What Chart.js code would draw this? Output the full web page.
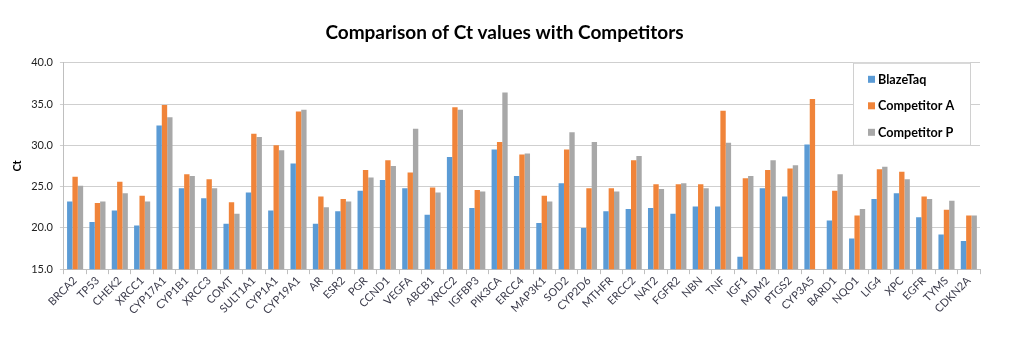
<!DOCTYPE html>
<html>
<head>
<meta charset="utf-8">
<script src="https://cdn.jsdelivr.net/npm/chart.js@4"></script>
<style>
  html, body { margin: 0; padding: 0; background: #fff; }
  #wrap { width: 1024px; height: 337px; }
</style>
</head>
<body>
<div id="wrap"><canvas id="ctChart" width="1024" height="337"></canvas></div>
<script>
// genes on the x axis
const genes = ['BRCA2', 'TP53', 'CHEK2', 'XRCC1', 'CYP17A1', 'CYP1B1', 'XRCC3', 'COMT', 'SULT1A1', 'CYP1A1',
    'CYP19A1', 'AR', 'ESR2', 'PGR', 'CCND1', 'VEGFA', 'ABCB1', 'XRCC2', 'IGFBP3', 'PIK3CA',
    'ERCC4', 'MAP3K1', 'SOD2', 'CYP2D6', 'MTHFR', 'ERCC2', 'NAT2', 'FGFR2', 'NBN', 'TNF',
    'IGF1', 'MDM2', 'PTGS2', 'CYP3A5', 'BARD1', 'NQO1', 'LIG4', 'XPC', 'EGFR', 'TYMS', 'CDKN2A'];

// Ct values
const blazeTaq = [23.2, 20.7, 22.1, 20.3, 32.4, 24.8, 23.6, 20.5, 24.3, 22.1,
    27.8, 20.5, 22.0, 24.5, 25.8, 24.8, 21.6, 28.6, 22.4, 29.5,
    26.3, 20.6, 25.4, 20.0, 22.0, 22.3, 22.4, 21.7, 22.6, 22.6,
    16.5, 24.8, 23.8, 30.1, 20.9, 18.7, 23.5, 24.2, 21.3, 19.2, 18.4];
const competitorA = [26.2, 23.0, 25.6, 23.9, 34.9, 26.5, 25.9, 23.1, 31.4, 30.0,
    34.1, 23.8, 23.5, 27.0, 28.2, 26.7, 24.9, 34.6, 24.6, 30.4,
    28.9, 23.9, 29.5, 24.8, 24.8, 28.2, 25.3, 25.3, 25.3, 34.2,
    26.0, 27.0, 27.2, 35.6, 24.5, 21.5, 27.1, 26.8, 23.8, 22.2, 21.5];
const competitorP = [25.1, 23.2, 24.2, 23.2, 33.4, 26.3, 24.8, 21.7, 31.0, 29.4,
    34.3, 22.5, 23.2, 26.1, 27.5, 32.0, 24.3, 34.3, 24.4, 36.4,
    29.0, 23.2, 31.6, 30.4, 24.4, 28.7, 24.7, 25.4, 24.8, 30.3,
    26.3, 28.2, 27.6, null, 26.5, 22.3, 27.4, 25.9, 23.5, 23.3, 21.5];

const yTicks = [15, 20, 25, 30, 35, 40];

const FONT = "Lato, 'Open Sans', sans-serif";

// title sits a bit right of the canvas centre in the original
const titleShift = {
    id: 'titleShift',
    afterLayout(chart) {
        if (chart.titleBlock) chart.titleBlock.left += 18;
    }
};

// legend drawn inside the plot, top right, like the Excel original
const boxLegend = {
    id: 'boxLegend',
    afterDatasetsDraw(chart) {
        const ctx = chart.ctx;
        const area = chart.chartArea;
        const w = 117, h = 82;
        const x = area.right - w - 10;
        const y = area.top;
        ctx.save();
        ctx.fillStyle = '#ffffff';
        ctx.fillRect(x, y, w, h);
        ctx.strokeStyle = '#d0d0d0';
        ctx.lineWidth = 1;
        ctx.strokeRect(x + 0.5, y + 0.5, w, h);
        ctx.font = "bold 12.6px " + FONT;
        ctx.textBaseline = 'middle';
        chart.data.datasets.forEach((ds, i) => {
            const cy = y + 17 + i * 26.5;
            ctx.fillStyle = ds.backgroundColor;
            ctx.fillRect(x + 15, cy - 4, 7, 7);
            ctx.fillStyle = '#000';
            ctx.fillText(ds.label, x + 25, cy);
        });
        ctx.restore();
    }
};

new Chart(document.getElementById('ctChart'), {
    type: 'bar',
    data: {
        labels: genes,
        datasets: [
            { label: 'BlazeTaq', data: blazeTaq, backgroundColor: '#5b9bd5' },
            { label: 'Competitor A', data: competitorA, backgroundColor: '#f0843a' },
            { label: 'Competitor P', data: competitorP, backgroundColor: '#a8a8a8' }
        ]
    },
    options: {
        responsive: false,
        animation: false,
        layout: { padding: { left: 11, right: 44, top: 8, bottom: 20 } },
        datasets: {
            bar: { categoryPercentage: 0.72, barPercentage: 1.0 }
        },
        plugins: {
            legend: { display: false },
            tooltip: { enabled: false },
            title: {
                display: true,
                text: 'Comparison of Ct values with Competitors',
                color: '#000',
                font: { family: FONT, size: 19, weight: 'bold' },
                padding: { top: 13, bottom: 19 }
            }
        },
        scales: {
            x: {
                grid: { drawOnChartArea: false, drawTicks: true, tickLength: 5, color: '#bfbfbf' },
                border: { color: '#bfbfbf' },
                ticks: {
                    color: '#3a3a4a',
                    font: { family: FONT, size: 11 },
                    minRotation: 45,
                    maxRotation: 45,
                    autoSkip: false,
                    padding: 0
                }
            },
            y: {
                min: 15,
                max: 40,
                afterBuildTicks(axis) {
                    axis.ticks = yTicks.map(v => ({ value: v }));
                },
                grid: { color: '#cfcfcf', tickLength: 4 },
                border: { color: '#bfbfbf' },
                ticks: {
                    color: '#222',
                    font: { family: FONT, size: 11 },
                    padding: 7,
                    callback: v => Number(v).toFixed(1)
                },
                title: {
                    display: true,
                    text: 'Ct',
                    color: '#000',
                    font: { family: FONT, size: 11, weight: 'bold' },
                    padding: { top: 0, bottom: 0 }
                }
            }
        }
    },
    plugins: [titleShift, boxLegend]
});
</script>
</body>
</html>
